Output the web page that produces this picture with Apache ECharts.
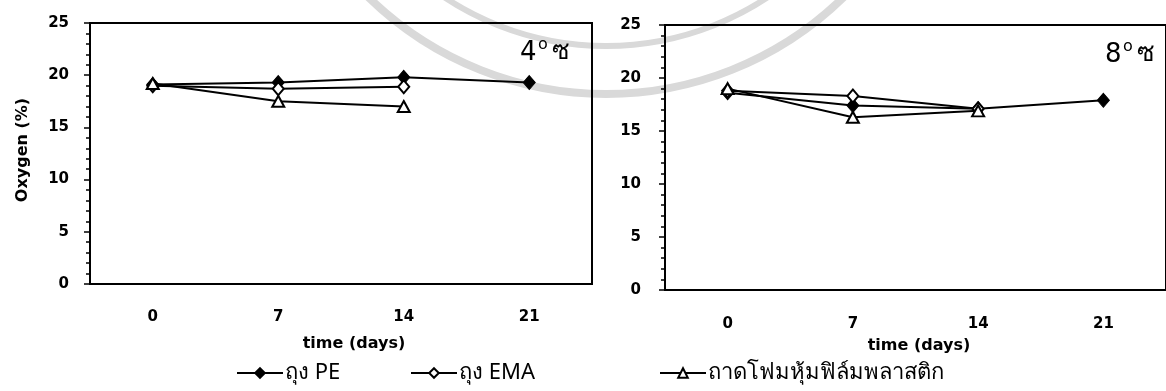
<!DOCTYPE html>
<html>
<head>
<meta charset="utf-8">
<script src="https://cdn.jsdelivr.net/npm/echarts@6/dist/echarts.min.js"></script>
<style>
  html, body { margin: 0; padding: 0; background: #fff; }
  #chart { width: 1166px; height: 391px; }
</style>
</head>
<body>
<div id="chart"></div>
<script>
// Storage time (days) on the category axis
const days = ['0', '7', '14', '21'];

// Oxygen (%) at 4 °C
const pe4 = [19.1, 19.3, 19.8, 19.3];
const ema4 = [19.0, 18.7, 18.9, null];
const tray4 = [19.2, 17.5, 17.0, null];

// Oxygen (%) at 8 °C
const pe8 = [18.6, 17.4, 17.1, 17.9];
const ema8 = [18.8, 18.3, 17.1, null];
const tray8 = [19.0, 16.3, 16.9, null];

const seriesNames = ['ถุง PE', 'ถุง EMA', 'ถาดโฟมหุ้มฟิล์มพลาสติก'];
const panelTemps = ['4', '8'];
const tempUnit = 'ซ';
const xTitle = 'time (days)';
const yTitle = 'Oxygen (%)';
const yMin = 0, yMax = 25, yStep = 5;

const labelFont = 'DejaVu Sans';
const thaiFont = 'Noto Sans, sans-serif';

const markers = [
  { symbol: 'diamond', symbolSize: [12, 14], itemStyle: { color: '#000', borderColor: '#000', borderWidth: 1 } },
  { symbol: 'diamond', symbolSize: [11, 13], itemStyle: { color: '#fff', borderColor: '#000', borderWidth: 2 } },
  { symbol: 'triangle', symbolSize: [12, 11], itemStyle: { color: '#fff', borderColor: '#000', borderWidth: 2 } }
];

function xAxisFor(gridIndex, labelMargin) {
  return {
    type: 'category', gridIndex, data: days, boundaryGap: true,
    axisLine: { lineStyle: { color: '#000', width: 2 } },
    axisTick: { alignWithLabel: true, length: 4, lineStyle: { color: '#000', width: 2 } },
    axisLabel: { color: '#000', fontFamily: labelFont, fontWeight: 'bold', fontSize: 15, margin: labelMargin },
    splitLine: { show: false }
  };
}
function yAxisFor(gridIndex, labelMargin) {
  return {
    type: 'value', gridIndex, min: yMin, max: yMax, interval: yStep,
    axisLine: { show: true, lineStyle: { color: '#000', width: 2 } },
    axisTick: { show: true, length: 6, lineStyle: { color: '#000', width: 1.5 } },
    minorTick: { show: true, splitNumber: 5, length: 4, lineStyle: { color: '#000', width: 1.5 } },
    axisLabel: { color: '#000', fontFamily: labelFont, fontWeight: 'bold', fontSize: 15, margin: labelMargin },
    splitLine: { show: false }
  };
}
function seriesFor(idx, values, name, m) {
  return {
    type: 'line', name, data: values, xAxisIndex: idx, yAxisIndex: idx,
    symbol: m.symbol, symbolSize: m.symbolSize, showAllSymbol: true,
    itemStyle: m.itemStyle, lineStyle: { color: '#000', width: 2 },
    connectNulls: false, animation: false
  };
}

const groups = [[pe4, ema4, tray4], [pe8, ema8, tray8]];
const series = [];
groups.forEach((vals, g) => vals.forEach((v, i) => series.push(seriesFor(g, v, seriesNames[i], markers[i]))));

// temperature tag: digit, raised small "o", Thai unit letter
function tempLabel(x, y, t) {
  return [
    { type: 'text', left: x, top: y, style: { text: t, fontFamily: 'DejaVu Sans', fontSize: 26, fill: '#000' } },
    { type: 'text', left: x + 18, top: y - 3, style: { text: 'o', fontFamily: 'DejaVu Sans', fontSize: 16, fill: '#000' } },
    { type: 'text', left: x + 32, top: y - 1, style: { text: tempUnit, fontFamily: thaiFont, fontSize: 26, fill: '#000' } }
  ];
}

const legendAt = (left, i) => ({
  left, top: 362, itemWidth: 46, itemHeight: 12, itemGap: 0, padding: 0,
  data: [seriesNames[i]],
  textStyle: { fontFamily: thaiFont, fontSize: 22, color: '#000', padding: [0, 0, 0, -3] }
});

const option = {
  backgroundColor: '#fff',
  animation: false,
  grid: [
    { left: 90, top: 23, right: 574, bottom: 107, show: true, borderColor: '#000', borderWidth: 2 },
    { left: 665, top: 25, right: -1, bottom: 101, show: true, borderColor: '#000', borderWidth: 2 }
  ],
  xAxis: [xAxisFor(0, 26), xAxisFor(1, 27)],
  yAxis: [yAxisFor(0, 21), yAxisFor(1, 24)],
  legend: [legendAt(236, 0), legendAt(410, 1), legendAt(659, 2)],
  series,
  graphic: [
    // faint ring in the page background
    { type: 'arc', z: -10, silent: true, shape: { cx: 606, cy: -246, r: 340, startAngle: 0, endAngle: Math.PI },
      style: { fill: null, stroke: '#d9d9d9', lineWidth: 8 } },
    { type: 'arc', z: -10, silent: true, shape: { cx: 606, cy: -246, r: 292, startAngle: 0, endAngle: Math.PI },
      style: { fill: null, stroke: '#d9d9d9', lineWidth: 6 } },
    { type: 'text', x: 23, y: 150, rotation: Math.PI / 2,
      style: { text: yTitle, fontFamily: labelFont, fontWeight: 'bold', fontSize: 16, fill: '#000',
               align: 'center', verticalAlign: 'middle' } },
    { type: 'text', x: 354, y: 344,
      style: { text: xTitle, fontFamily: labelFont, fontWeight: 'bold', fontSize: 16, fill: '#000',
               align: 'center', verticalAlign: 'middle' } },
    { type: 'text', x: 919, y: 346,
      style: { text: xTitle, fontFamily: labelFont, fontWeight: 'bold', fontSize: 16, fill: '#000',
               align: 'center', verticalAlign: 'middle' } },
    ...tempLabel(520, 40, panelTemps[0]),
    ...tempLabel(1105, 42, panelTemps[1])
  ]
};

const chart = echarts.init(document.getElementById('chart'), null, { renderer: 'canvas' });
chart.setOption(option);
</script>
</body>
</html>
